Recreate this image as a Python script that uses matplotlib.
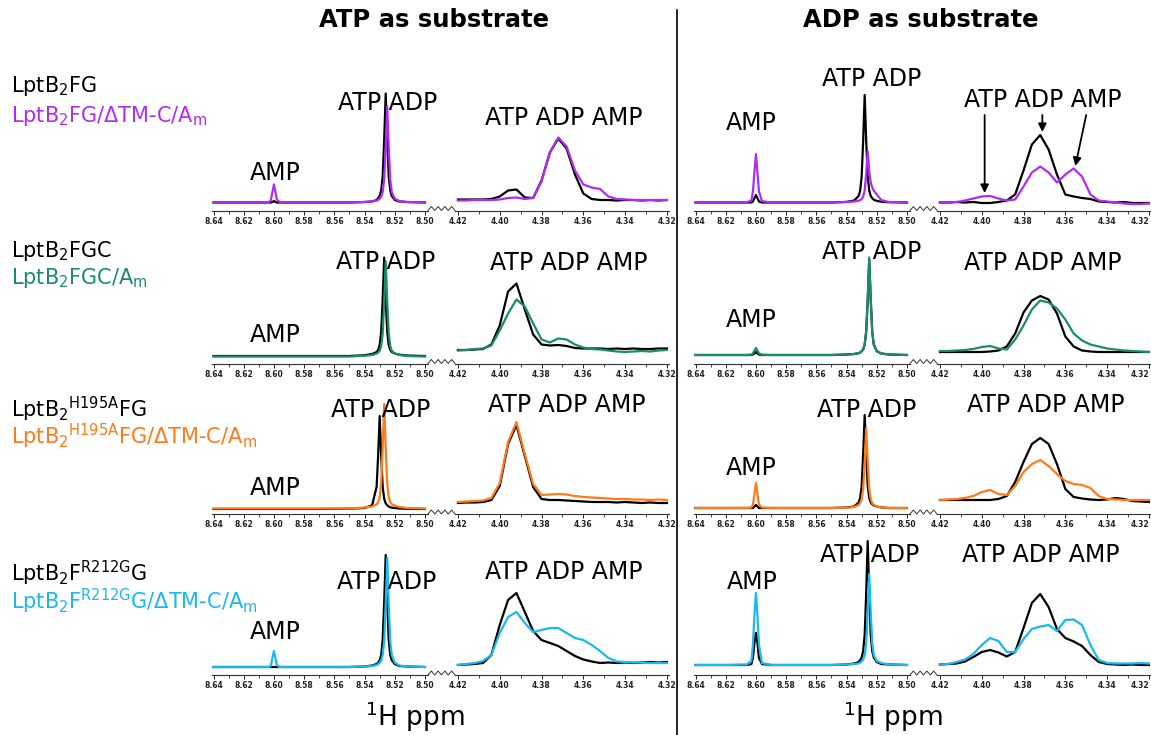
import numpy as np
import matplotlib
matplotlib.use("Agg")
import matplotlib.pyplot as plt
from matplotlib.lines import Line2D
from matplotlib.ticker import MultipleLocator, FormatStrFormatter

W, H = 1151, 735

# chemical shift grids (ppm) for the two pieces of the broken axis
left_ppm = [8.640, 8.620, 8.606, 8.603, 8.602, 8.601, 8.600, 8.599, 8.598, 8.596,
            8.590, 8.570, 8.550, 8.540, 8.535, 8.532, 8.531, 8.530, 8.529, 8.528,
            8.527, 8.526, 8.525, 8.524, 8.523, 8.522, 8.520, 8.517, 8.512, 8.500]
right_ppm = [4.420, 4.416, 4.412, 4.408, 4.404, 4.400, 4.396, 4.392, 4.388, 4.384,
             4.380, 4.376, 4.372, 4.368, 4.364, 4.360, 4.356, 4.352, 4.348, 4.344,
             4.340, 4.336, 4.332, 4.328, 4.324, 4.320]

# row 1: LptB2FG (black) / LptB2FG/dTM-C/Am (purple)
fg_atp_left_k = [8, 8, 8, 8, 8, 8.5, 9.5, 8.5, 8, 8, 8, 8, 8, 8.5, 9, 10.5, 12.4, 14.5, 20, 34,
                 71, 117, 71, 34, 20, 14.5, 10.5, 9, 8.5, 8]
fg_atp_left_c = [8, 8, 8, 8.5, 10.7, 18.5, 26, 18.5, 10.7, 8.5, 8, 8, 8, 8.5, 9, 10, 10.5, 11.8, 13.8, 18.5,
                 31, 64, 104, 64, 31, 18.5, 11.8, 9.5, 8.5, 8]
fg_atp_right_k = [11, 11, 11, 11, 11.5, 14, 20, 21, 13, 12.5, 30, 58, 72, 62, 36, 17, 11.5, 10.5, 10.5, 10,
                  10.5, 10.5, 10, 10.5, 10, 10.5]
fg_atp_right_c = [10, 10, 10.5, 10.5, 10.5, 11, 12.5, 13, 11.5, 12.5, 29, 58, 73, 64, 40, 26, 23, 21.5, 14, 11.5,
                  11, 10.5, 10.5, 10.5, 10.5, 10.5]
fg_adp_left_k = [8, 8, 8, 8, 9, 12.3, 15.5, 12.3, 9, 8, 8, 8, 8, 8.6, 10, 14.5, 20, 34, 70, 115.5,
                 70, 34, 20, 14.5, 12.3, 10.8, 9.6, 8.8, 8.3, 8]
fg_adp_left_c = [8, 8, 8.3, 10, 19, 38, 56.5, 38, 19, 9.5, 8, 8, 8, 8.5, 9, 9.8, 10.3, 11.5, 14, 20,
                 37, 59, 40, 28, 23, 20, 16, 10.5, 8.5, 8]
fg_adp_right_k = [8, 8, 8.5, 8, 8.5, 7.5, 7.5, 8.5, 10, 16, 40, 66, 75.5, 61, 36, 16, 14, 12.5, 11.5, 9,
                  8.5, 8, 8.5, 7.5, 7.5, 7.5]
fg_adp_right_c = [8, 8, 8.5, 10, 12, 14, 14.5, 12, 10, 11, 24, 38, 44, 38, 28, 36, 42, 34, 16, 10,
                  9, 8, 7, 6.5, 6.5, 7]

# row 2: LptB2FGC (black) / LptB2FGC/Am (green)
fgc_atp_left_k = [7.5, 7.5, 7.5, 7.5, 7.5, 7.5, 7.5, 7.5, 7.5, 7.5, 7.5, 7.5, 7.5, 8.3, 9.5, 11.5, 13.5, 18.5, 31.5, 64.5,
                  106, 64.5, 31.5, 18.5, 13.5, 11.5, 10, 8.8, 8, 7.5]
fgc_atp_left_c = [7, 7, 7, 7, 7, 7, 7, 7, 7, 7, 7, 7, 7, 7.8, 8.5, 10, 11, 12.7, 17.5, 30,
                  62, 102, 62, 30, 17.5, 12.7, 10, 8.5, 7.5, 7]
fgc_atp_right_k = [13.5, 13.5, 14, 14.5, 19, 38, 72, 80, 54, 29, 19, 18, 18.5, 17.5, 15.5, 15, 15, 15, 14.5, 15,
                   14.5, 15, 14.5, 14.5, 15, 15]
fgc_atp_right_c = [13, 13.5, 14.5, 15, 18, 33, 50, 64, 57, 40, 24, 21, 25, 24, 19, 16, 14.5, 14, 13, 12,
                   11.5, 12, 12.5, 12, 13, 13.5]
fgc_adp_left_k = [8.5, 8.5, 8.5, 8.5, 9, 10, 11.5, 10, 9, 8.5, 8.5, 8.5, 8.5, 9, 9.5, 10.3, 11, 12.3, 14, 19,
                  31.5, 63.5, 104, 63.5, 31.5, 19, 12.3, 10, 9, 8.5]
fgc_adp_left_c = [8.5, 8.5, 8.5, 8.8, 10, 13, 15.5, 13, 10, 8.8, 8.5, 8.5, 8.5, 9, 9.5, 10.3, 11, 12.4, 14, 19.3,
                  32, 64.5, 106, 64.5, 32, 19.3, 12.4, 10, 9, 8.5]
fgc_adp_right_k = [11.5, 11.5, 11.5, 11.5, 11.5, 11.5, 12, 13, 17, 30, 51, 63, 67.5, 64, 50, 27, 17, 13, 12, 11.5,
                   11.5, 11.5, 11.5, 11.5, 11.5, 11.5]
fgc_adp_right_c = [12.5, 12.5, 13, 13.5, 14.5, 16.5, 17.5, 15, 14, 24, 38, 54, 63, 61, 55, 44, 30, 23, 19, 17,
                   15, 14, 13, 12.5, 12, 11.5]

# row 3: LptB2(H195A)FG (black) / LptB2(H195A)FG/dTM-C/Am (orange)
h195_atp_left_k = [5, 5, 5, 5, 5, 5, 5, 5, 5, 5, 5, 5, 5.3, 6, 8.7, 27.3, 59, 98, 59, 27.3,
                   15.2, 10.6, 8.7, 7.5, 6.7, 6.4, 6, 5.5, 5.2, 5]
h195_atp_left_c = [5.5, 5.5, 5.5, 5.5, 5.5, 5.5, 5.5, 5.5, 5.5, 5.5, 5.5, 5.5, 5.5, 6.5, 7.5, 9.7, 11.8, 17, 30.5, 66,
                   110, 66, 30.5, 17, 11.8, 9.7, 8.5, 7, 6, 5.5]
h195_atp_right_k = [11, 11.5, 11.5, 12, 14, 28, 70, 89, 58, 27, 15, 14, 14, 13.5, 13, 12.5, 12, 12, 12, 11.5,
                    12, 11.5, 11, 11.5, 11, 11]
h195_atp_right_c = [12, 12.5, 13, 13.5, 16, 31, 72, 92, 60, 30, 19, 19.5, 20, 19.5, 18, 17, 16.5, 16, 15.5, 15,
                    15, 14.5, 14.5, 14, 14.5, 14]
h195_adp_left_k = [6, 6, 6, 6, 6, 7.5, 9, 7.5, 6, 6, 6, 6, 6, 6.5, 7.5, 11.5, 16, 28, 60, 99,
                   60, 28, 16, 11.5, 9.7, 8.5, 7.5, 6.5, 6, 6]
h195_adp_left_c = [6, 6, 6, 6.5, 9.5, 20, 31, 20, 9.5, 6.5, 6, 6, 6, 6.3, 7, 9, 11, 15, 25, 52,
                   86, 52, 25, 15, 11, 9, 7.5, 6.5, 6, 6]
h195_adp_right_k = [14, 14, 14, 14, 14, 14, 14, 15, 18, 32, 52, 70, 76, 70, 50, 25, 17, 15.5, 14.5, 14,
                    14.5, 16, 15, 13, 12.5, 12]
h195_adp_right_c = [14, 14.5, 15, 16, 18, 22, 24, 20, 19, 28, 42, 50, 54, 48, 40, 33, 30, 29, 26, 18,
                    15, 14.5, 14, 14, 14, 14]

# row 4: LptB2F(R212G)G (black) / LptB2F(R212G)G/dTM-C/Am (cyan)
r212_atp_left_k = [8, 8, 8, 8, 8, 8, 8, 8, 8, 8, 8, 8, 8, 8.5, 9.5, 11, 12.5, 14.7, 20, 35,
                   73, 120, 73, 35, 20, 14.7, 11, 9, 8.5, 8]
r212_atp_left_c = [8, 8, 8, 8, 9.5, 17, 24, 17, 9.5, 8, 8, 8, 8, 8.5, 9, 10, 11, 12.4, 14.5, 20,
                   34, 71, 117, 71, 34, 20, 12.4, 9.5, 8.5, 8]
r212_atp_right_k = [10, 10.5, 11, 12, 20, 50, 75, 82, 63, 44, 35, 32, 29, 24, 19, 15.5, 13.5, 12, 12.5, 12,
                    12.5, 12, 12.5, 13, 12.5, 13]
r212_atp_right_c = [10, 11, 12, 14, 20, 42, 58, 63, 52, 43, 45, 47, 47, 42, 37, 35, 30, 24, 17, 13.5,
                    13, 12.5, 12.5, 12, 12, 12]
r212_adp_left_k = [10, 10, 10, 11, 17, 32, 42, 32, 17, 11, 10, 10, 10, 10.5, 11.5, 13, 15, 17.5, 24, 40,
                   82, 134, 82, 40, 24, 17.5, 13, 11, 10.5, 10]
r212_adp_left_c = [10, 10, 10.5, 14, 30, 60, 82, 60, 30, 12, 10, 10, 10, 10.5, 11, 11.5, 12.5, 13.5, 15.5, 20,
                   32, 63, 101, 63, 32, 20, 14, 12, 10.5, 10]
r212_adp_right_k = [10.5, 11, 11.5, 13.5, 18, 23, 25, 22.5, 18.5, 23, 47, 72, 81, 68, 46, 37, 33.5, 29, 20, 13,
                    11, 10.5, 10, 10.5, 10, 10]
r212_adp_right_c = [10.5, 11, 13, 15.5, 21, 30, 37, 34, 23, 23, 36, 46, 48.5, 50, 44, 55, 55.5, 50, 30, 15,
                    12, 11.5, 11.5, 11.5, 12, 11.5]

row_colors = ['#b02cf5', '#1a8c6a', '#ff7a1a', '#19b9ef']
ref_labels = [r'LptB$_2$FG', r'LptB$_2$FGC', r'LptB$_2$$^{\rm H195A}$FG', r'LptB$_2$F$^{\rm R212G}$G']
mut_labels = [r'LptB$_2$FG/ΔTM-C/A$_{\rm m}$', r'LptB$_2$FGC/A$_{\rm m}$',
              r'LptB$_2$$^{\rm H195A}$FG/ΔTM-C/A$_{\rm m}$', r'LptB$_2$F$^{\rm R212G}$G/ΔTM-C/A$_{\rm m}$']

panels = [
    [(fg_atp_left_k, fg_atp_left_c, fg_atp_right_k, fg_atp_right_c),
     (fg_adp_left_k, fg_adp_left_c, fg_adp_right_k, fg_adp_right_c)],
    [(fgc_atp_left_k, fgc_atp_left_c, fgc_atp_right_k, fgc_atp_right_c),
     (fgc_adp_left_k, fgc_adp_left_c, fgc_adp_right_k, fgc_adp_right_c)],
    [(h195_atp_left_k, h195_atp_left_c, h195_atp_right_k, h195_atp_right_c),
     (h195_adp_left_k, h195_adp_left_c, h195_adp_right_k, h195_adp_right_c)],
    [(r212_atp_left_k, r212_atp_left_c, r212_atp_right_k, r212_atp_right_c),
     (r212_adp_left_k, r212_adp_left_c, r212_adp_right_k, r212_adp_right_c)],
]

# layout (pixels)
axis_y = [210.5, 363.5, 514, 675]
col_dx = 482
legend_base = [(92, 122), (257, 284), (417, 444), (581, 609)]
# peak labels: (AMP x, y), (ATP ADP x, y) on left piece, (ATP ADP AMP x, y) on right piece
peak_text = [
    [((8.5993, 37.5), (8.5245, 107.5), (4.3693, 92.5)), ((8.6031, 87.8), (8.5232, 131.5), (4.371, 110.5))],
    [((8.5993, 28.5), (8.5258, 101.5), (4.3669, 100.5)), ((8.6031, 43.5), (8.5232, 111.5), (4.371, 100.5))],
    [((8.5993, 26), (8.5291, 104), (4.3678, 109)), ((8.6031, 46), (8.5265, 104), (4.3695, 109))],
    [((8.5993, 43), (8.5252, 93), (4.3693, 103)), ((8.6025, 93), (8.5245, 120), (4.3716, 120))],
]

fig = plt.figure(figsize=(W / 100, H / 100), dpi=100)


def box(x0, yb, w, h):
    return [x0 / W, 1 - yb / H, w / W, h / H]


def style_axis(ax, lim, major, minor):
    ax.set_xlim(*lim)
    ax.set_ylim(0, 140)
    for s in ['top', 'right', 'left']:
        ax.spines[s].set_visible(False)
    ax.spines['bottom'].set_linewidth(0.8)
    ax.spines['bottom'].set_color('#333333')
    ax.set_yticks([])
    ax.xaxis.set_major_locator(MultipleLocator(major))
    ax.xaxis.set_minor_locator(MultipleLocator(minor))
    ax.xaxis.set_major_formatter(FormatStrFormatter('%.2f'))
    ax.tick_params(axis='x', which='major', direction='out', length=3, width=0.7,
                   labelsize=5.5, pad=1.5, colors='#222222')
    ax.tick_params(axis='x', which='minor', direction='out', length=1.8, width=0.6, colors='#222222')
    plt.setp(ax.get_xticklabels(), fontweight='bold')
    ax.patch.set_alpha(0)


for r in range(4):
    for c in range(2):
        lk, lc, rk, rc = panels[r][c]
        ya = axis_y[r]
        x0 = 212 + col_dx * c
        axl = fig.add_axes(box(x0, ya, 216, 140))
        axr = fig.add_axes(box(x0 + 243, ya, 214, 140))
        style_axis(axl, (8.641, 8.498), 0.02, 0.01)
        style_axis(axr, (4.4214, 4.319), 0.02, 0.01)
        axl.plot(left_ppm, lk, color='black', lw=1.6)
        axl.plot(left_ppm, lc, color=row_colors[r], lw=1.6)
        axr.plot(right_ppm, rk, color='black', lw=1.6)
        axr.plot(right_ppm, rc, color=row_colors[r], lw=1.6)

        if c == 1:
            # last tick label sits on the figure edge: keep it inside
            fig.canvas.draw_idle()
            axr.xaxis.set_major_formatter(FormatStrFormatter('%.2f'))
            for t in axr.xaxis.get_major_ticks():
                if abs(t.get_loc() - 4.32) < 1e-6:
                    t.label1.set_horizontalalignment('right')

        amp, atpadp, three = peak_text[r][c]
        axl.text(*amp, 'AMP', ha='center', va='center', fontsize=17)
        axl.text(*atpadp, 'ATP ADP', ha='center', va='center', fontsize=17)
        axr.text(*three, 'ATP ADP AMP', ha='center', va='center', fontsize=17)

        # axis break zigzag
        zx = np.linspace(x0 + 216, x0 + 243, 9)
        zy = [ya - (4 if i % 2 else 0) for i in range(9)]
        fig.add_artist(Line2D([v / W for v in zx], [1 - v / H for v in zy],
                              transform=fig.transFigure, color='#333333', lw=0.7))

        if r == 0 and c == 1:
            arrow = dict(arrowstyle='-|>', color='black', lw=1.3, mutation_scale=12, shrinkA=0, shrinkB=0)
            axr.annotate('', xy=(4.3986, 17.5), xytext=(4.3986, 95.5), arrowprops=arrow)
            axr.annotate('', xy=(4.371, 78.5), xytext=(4.371, 95.5), arrowprops=arrow)
            axr.annotate('', xy=(4.3552, 44.5), xytext=(4.350, 95.5), arrowprops=arrow)

    yb1, yb2 = legend_base[r]
    fig.text(11 / W, 1 - yb1 / H, ref_labels[r], fontsize=15, va='baseline', color='black')
    fig.text(11 / W, 1 - yb2 / H, mut_labels[r], fontsize=15, va='baseline', color=row_colors[r])

fig.text(434 / W, 1 - 20 / H, 'ATP as substrate', fontsize=17.5, fontweight='bold', ha='center', va='center')
fig.text(921 / W, 1 - 20 / H, 'ADP as substrate', fontsize=17.5, fontweight='bold', ha='center', va='center')
fig.text(415 / W, 1 - 717 / H, r'$^{1}$H ppm', fontsize=19, ha='center', va='center')
fig.text(893 / W, 1 - 717 / H, r'$^{1}$H ppm', fontsize=19, ha='center', va='center')

fig.add_artist(Line2D([677 / W, 677 / W], [1 - 10 / H, 0], transform=fig.transFigure, color='black', lw=1.2))

fig.savefig('out.png', dpi=100)
